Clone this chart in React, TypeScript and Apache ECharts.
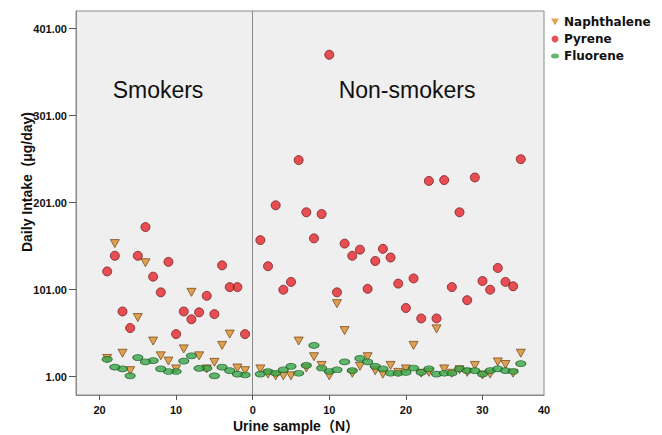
import React, { useEffect, useRef } from "react";
import * as echarts from "echarts";

// Smokers: sample numbers 1..19 (plotted to the left of 0)
const smokerSamples = [1, 2, 3, 4, 5, 6, 7, 8, 9, 10, 11, 12, 13, 14, 15, 16, 17, 18, 19];
const smokerNaphthalene = [8, 11, 50, 37, 17.5, 10, 25, 98, 33, 10, 19, 25, 42, 132, 69, 8, 28, 154, 22];
const smokerPyrene = [50, 104, 104, 129, 73, 94, 75, 67, 76, 50, 133, 98, 116, 173, 140, 57, 76, 140, 122];
const smokerFluorene = [3, 4, 8, 12, 2, 10.6, 10.6, 25, 19, 7, 7, 10, 19.4, 18, 23, 2, 10, 12, 21];

// Non-smokers: sample numbers 1..35 (plotted to the right of 0)
const nonSmokerSamples = [1, 2, 3, 4, 5, 6, 7, 8, 9, 10, 11, 12, 13, 14, 15, 16, 17, 18, 19, 20, 21, 22, 23, 24, 25, 26, 27, 28, 29, 30, 31, 32, 33, 34, 35];
const nonSmokerNaphthalene = [10, 4, 2, 2, 2, 42, 11, 24, 14, 2, 85, 54, 5, 13, 24, 8, 4, 14, 6, 10, 37, 5, 6, 56, 10, 5, 9, 6, 14, 3, 4, 18, 15, 5, 28];
const nonSmokerPyrene = [158, 128, 198, 101, 110, 250, 190, 160, 188, 371, 98, 154, 140, 147, 102, 134, 148, 138, 108, 80, 114, 68, 226, 68, 227, 104, 190, 89, 230, 111, 101, 126, 110, 105, 251];
const nonSmokerFluorene = [4, 7, 5, 9, 13, 5, 14, 37, 11, 7, 9, 18, 8, 22, 18, 13, 10, 5, 5, 6, 11, 6, 10, 4, 5, 5, 10, 8, 8, 4, 8, 10, 8, 7, 16];

const yTicks = [1, 101, 201, 301, 401];
const xTicks = [-20, -10, 0, 10, 20, 30];

const TRI = "path://M0,0 L10,0 L5,9 Z";
const ELL = "path://M0,5 A8,5 0 1,0 16,5 A8,5 0 1,0 0,5 Z";

function pts(smk: number[], non: number[]) {
  const a = smokerSamples.map((n, i) => [-n, smk[i]]);
  const b = nonSmokerSamples.map((n, i) => [n, non[i]]);
  return a.concat(b);
}

export default function App() {
  const ref = useRef<HTMLDivElement>(null);
  useEffect(() => {
    const chart = echarts.init(ref.current!, null, { renderer: "svg" });
    const xMin = -23.07;
    const xMax = 38.03;
    const tickFont = { fontFamily: "Arial, 'Liberation Sans'", fontWeight: "bold", fontSize: 11, color: "#111" };
    chart.setOption({
      animation: false,
      backgroundColor: "#ffffff",
      grid: {
        left: 76,
        right: 118,
        top: 11,
        bottom: 40,
        show: true,
        backgroundColor: "#efefef",
        borderColor: "#8a8a8a",
        borderWidth: 1,
      },
      legend: {
        orient: "vertical",
        left: 551,
        top: 15,
        padding: 0,
        itemWidth: 8,
        itemHeight: 7,
        itemGap: 3,
        textStyle: { fontFamily: "'DejaVu Sans'", fontWeight: "bold", fontSize: 12, color: "#111", lineHeight: 14 },
        data: [
          { name: "Naphthalene", icon: TRI, itemStyle: { color: "#d98a2b", borderWidth: 0 } },
          { name: "Pyrene", icon: "circle", itemStyle: { color: "#e5262d", borderWidth: 0 } },
          { name: "Fluorene", icon: ELL, itemStyle: { color: "#3aa84a", borderWidth: 0 } },
        ],
      },
      xAxis: {
        type: "value",
        min: xMin,
        max: xMax,
        splitLine: { show: false },
        axisLine: { show: true, onZero: false, lineStyle: { color: "#8a8a8a" } },
        axisTick: { show: true, customValues: xTicks, length: 5, lineStyle: { color: "#555" } },
        axisLabel: {
          customValues: xTicks.concat([xMax]),
          margin: 9,
          ...tickFont,
          formatter: (v: number) => (v > 35 ? "40" : String(Math.abs(Math.round(v)))),
        },
      },
      yAxis: {
        type: "value",
        min: -20,
        max: 421.3,
        splitLine: { show: false },
        axisLine: { show: true, onZero: false, lineStyle: { color: "#8a8a8a" } },
        axisTick: { show: true, customValues: yTicks, length: 7, lineStyle: { color: "#555" } },
        axisLabel: {
          customValues: yTicks,
          margin: 9,
          ...tickFont,
          formatter: (v: number) => v.toFixed(2),
        },
      },
      graphic: [
        {
          type: "text",
          x: 158,
          y: 90,
          style: { text: "Smokers", fontFamily: "Arial, 'Liberation Sans'", fontSize: 23, fill: "#111", align: "center", verticalAlign: "middle" },
        },
        {
          type: "text",
          x: 407,
          y: 90,
          style: { text: "Non-smokers", fontFamily: "Arial, 'Liberation Sans'", fontSize: 23, fill: "#111", align: "center", verticalAlign: "middle" },
        },
        {
          type: "text",
          x: 27,
          y: 182,
          rotation: Math.PI / 2,
          style: { text: "Daily Intake  (μg/day)", fontFamily: "Arial, 'Liberation Sans'", fontWeight: "bold", fontSize: 14, fill: "#111", align: "center", verticalAlign: "middle" },
        },
        {
          type: "text",
          x: 296,
          y: 426,
          style: { text: "Urine sample（N）", fontFamily: "Arial, 'Liberation Sans', 'Noto Sans CJK SC'", fontWeight: "bold", fontSize: 14, fill: "#111", align: "center", verticalAlign: "middle" },
        },
      ],
      series: [
        {
          name: "Naphthalene",
          type: "scatter",
          symbol: TRI,
          symbolSize: [9, 8],
          itemStyle: { color: "#dc8c2a", borderColor: "#6e4210", borderWidth: 0.9 },
          data: pts(smokerNaphthalene, nonSmokerNaphthalene),
          markLine: {
            silent: true,
            symbol: "none",
            label: { show: false },
            lineStyle: { color: "#8a8a8a", type: "solid", width: 1 },
            data: [{ xAxis: 0 }],
          },
        },
        {
          name: "Pyrene",
          type: "scatter",
          symbol: "circle",
          symbolSize: 9,
          itemStyle: { color: "#e5262d", borderColor: "#6e1212", borderWidth: 0.9 },
          data: pts(smokerPyrene, nonSmokerPyrene),
        },
        {
          name: "Fluorene",
          type: "scatter",
          symbol: ELL,
          symbolSize: [10, 6],
          itemStyle: { color: "#3aa84a", borderColor: "#1b5a25", borderWidth: 0.9 },
          data: pts(smokerFluorene, nonSmokerFluorene),
        },
      ],
    });
    return () => chart.dispose();
  }, []);
  return <div ref={ref} style={{ position: "fixed", left: 0, top: 0, width: 662, height: 435 }} />;
}
